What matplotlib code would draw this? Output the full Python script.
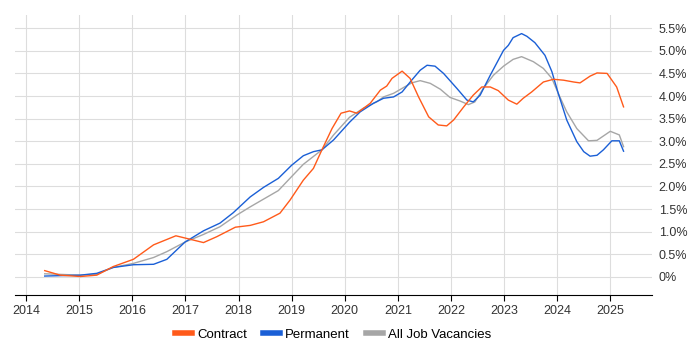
import matplotlib
matplotlib.use("Agg")
import matplotlib.pyplot as plt
from matplotlib.ticker import FuncFormatter

plt.rcParams["font.family"] = ["Liberation Sans", "DejaVu Sans"]

contract_x = [2014.35, 2014.64, 2015.02, 2015.33, 2015.64, 2016.02, 2016.40, 2016.82, 2017.03,
              2017.34, 2017.59, 2017.94, 2018.22, 2018.47, 2018.78, 2018.97, 2019.22, 2019.41,
              2019.57, 2019.76, 2019.93, 2020.09, 2020.23, 2020.48, 2020.67, 2020.79, 2020.89,
              2021.08, 2021.23, 2021.39, 2021.58, 2021.76, 2021.92, 2022.05, 2022.24, 2022.42,
              2022.58, 2022.74, 2022.89, 2023.08, 2023.24, 2023.36, 2023.52, 2023.74, 2023.93,
              2024.12, 2024.31, 2024.43, 2024.62, 2024.75, 2024.94, 2025.12, 2025.25]
contract_y = [0.14, 0.04, 0.01, 0.04, 0.23, 0.39, 0.71, 0.91, 0.85,
              0.76, 0.89, 1.10, 1.14, 1.22, 1.41, 1.70, 2.14, 2.40,
              2.81, 3.28, 3.62, 3.67, 3.62, 3.84, 4.13, 4.22, 4.39,
              4.55, 4.39, 3.98, 3.54, 3.36, 3.34, 3.47, 3.76, 4.02,
              4.20, 4.20, 4.12, 3.91, 3.82, 3.95, 4.09, 4.31, 4.37,
              4.35, 4.31, 4.29, 4.44, 4.51, 4.50, 4.20, 3.76]

perm_x = [2014.35, 2015.02, 2015.33, 2015.64, 2016.02, 2016.40, 2016.65, 2016.99, 2017.34,
          2017.65, 2017.90, 2018.22, 2018.47, 2018.75, 2019.00, 2019.22, 2019.41, 2019.57,
          2019.79, 2020.09, 2020.29, 2020.54, 2020.73, 2020.92, 2021.08, 2021.26, 2021.42,
          2021.55, 2021.70, 2021.86, 2022.11, 2022.30, 2022.42, 2022.55, 2022.74, 2022.99,
          2023.08, 2023.17, 2023.33, 2023.43, 2023.58, 2023.77, 2023.90, 2024.02, 2024.18,
          2024.37, 2024.50, 2024.62, 2024.75, 2024.87, 2025.03, 2025.17, 2025.25]
perm_y = [0.02, 0.04, 0.08, 0.21, 0.27, 0.28, 0.39, 0.77, 1.02,
          1.19, 1.42, 1.77, 1.98, 2.18, 2.47, 2.68, 2.77, 2.81,
          3.03, 3.42, 3.65, 3.84, 3.95, 3.98, 4.09, 4.35, 4.57,
          4.68, 4.66, 4.50, 4.17, 3.91, 3.87, 4.02, 4.46, 5.01,
          5.12, 5.29, 5.38, 5.32, 5.18, 4.90, 4.54, 4.06, 3.47,
          2.99, 2.77, 2.67, 2.69, 2.81, 3.01, 3.01, 2.78]

all_x = [2014.35, 2015.02, 2015.33, 2015.64, 2016.02, 2016.40, 2016.65, 2016.99, 2017.34,
         2017.65, 2017.97, 2018.22, 2018.47, 2018.75, 2019.00, 2019.22, 2019.57, 2019.79,
         2020.09, 2020.35, 2020.60, 2020.73, 2020.92, 2021.11, 2021.26, 2021.42, 2021.61,
         2021.80, 2021.98, 2022.17, 2022.33, 2022.45, 2022.61, 2022.80, 2022.99, 2023.17,
         2023.33, 2023.55, 2023.74, 2023.90, 2024.02, 2024.18, 2024.37, 2024.59, 2024.75,
         2025.00, 2025.17, 2025.25]
all_y = [0.07, 0.04, 0.06, 0.21, 0.30, 0.43, 0.56, 0.77, 0.94,
         1.11, 1.37, 1.55, 1.72, 1.91, 2.22, 2.49, 2.81, 3.14,
         3.53, 3.73, 3.87, 3.98, 4.06, 4.19, 4.29, 4.34, 4.28,
         4.15, 3.97, 3.89, 3.81, 3.87, 4.17, 4.46, 4.66, 4.81,
         4.87, 4.76, 4.61, 4.39, 4.06, 3.65, 3.28, 3.01, 3.02,
         3.22, 3.14, 2.88]

years = list(range(2014, 2026))
y_ticks = [0, 0.5, 1.0, 1.5, 2.0, 2.5, 3.0, 3.5, 4.0, 4.5, 5.0, 5.5]


def pct(v, _pos):
    return "0%" if v == 0 else f"{v:.1f}%"


fig = plt.figure(figsize=(7, 3.5), dpi=100)
ax = fig.add_axes([0.0214, 0.157, 0.9096, 0.8])

ax.plot(all_x, all_y, color="#a6a6a6", lw=1.0, zorder=3)
ax.plot(perm_x, perm_y, color="#1a5fd6", lw=1.0, zorder=4)
ax.plot(contract_x, contract_y, color="#ff5a1a", lw=1.0, zorder=5)

ax.set_xlim(2013.79, 2025.78)
ax.set_ylim(-0.40, 5.79)
ax.set_xticks(years)
ax.set_yticks(y_ticks)
ax.yaxis.set_major_formatter(FuncFormatter(pct))
ax.yaxis.tick_right()
ax.grid(True, color="#dddddd", lw=0.8)
ax.set_axisbelow(True)
for side in ("top", "left", "right"):
    ax.spines[side].set_visible(False)
ax.spines["bottom"].set_color("#000000")
ax.tick_params(axis="x", length=4, color="#000000", labelsize=9, labelcolor="#333333", pad=3)
ax.tick_params(axis="y", length=0, labelsize=9, labelcolor="#333333", pad=5)

handles = [
    plt.Line2D([0], [0], color="#ff5a1a", lw=4),
    plt.Line2D([0], [0], color="#1a5fd6", lw=4),
    plt.Line2D([0], [0], color="#a6a6a6", lw=4),
]
fig.legend(handles, ["Contract", "Permanent", "All Job Vacancies"], loc="center",
           bbox_to_anchor=(0.476, 0.043), ncol=3, frameon=False, fontsize=9.5,
           handlelength=1.3, handletextpad=0.4, columnspacing=1.2)

fig.savefig("out.png", dpi=100)
